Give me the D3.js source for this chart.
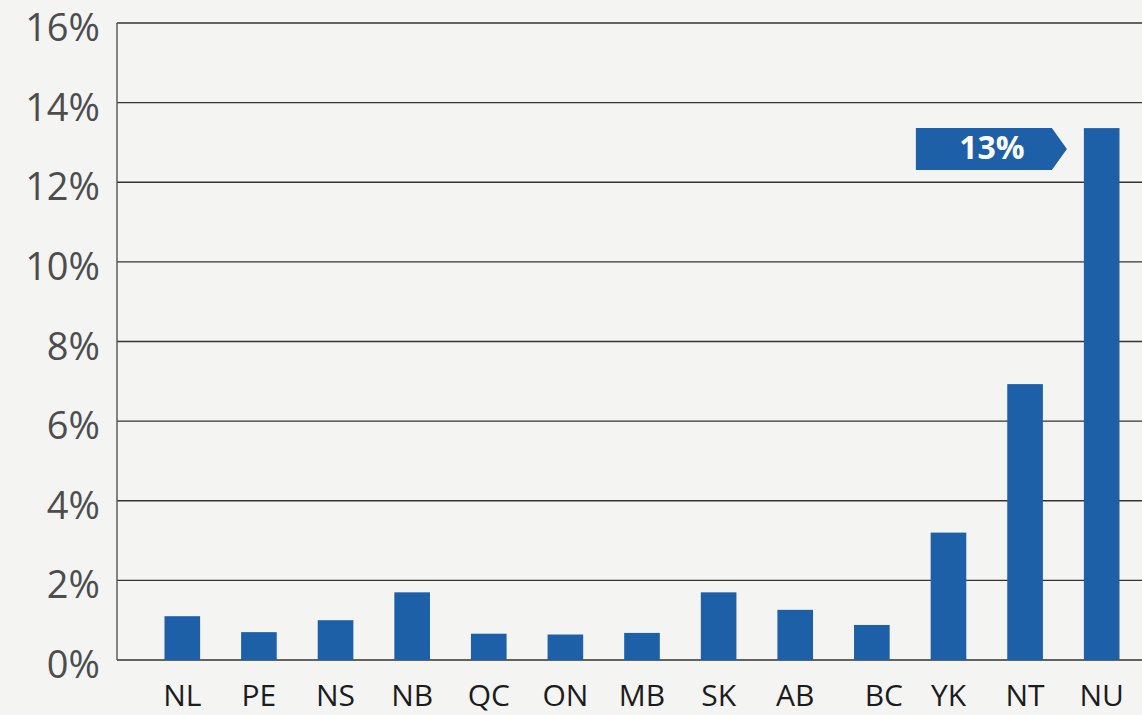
<!DOCTYPE html>
<html>
  <head>
    <meta charset="utf-8">
    <style>
      body { margin:0; background:#f4f4f3; }
      svg { display:block; }
      text { font-family: "Open Sans", "Noto Sans", sans-serif; }
      .ytick text { font-size:38px; fill:#4d4d4d; text-anchor:end; }
      .xtick text { font-size:30px; fill:#1c1c1c; text-anchor:middle; }
      .grid line { stroke:#333; stroke-width:1.4px; }
      .bars rect { fill:#1e60a8; }
      .callout path { fill:#1e60a8; }
      .callout text { fill:#fff; font-weight:700; font-size:32px; text-anchor:middle; dominant-baseline:middle; }
    </style>
    <script src="https://d3js.org/d3.v7.min.js"></script>
  </head>
  <body>
    <script>
      // provinces / territories and the share (%)
      const provinces = ['NL','PE','NS','NB','QC','ON','MB','SK','AB','BC','YK','NT','NU']
      const shares = [1.1, 0.7, 1.0, 1.7, 0.66, 0.64, 0.68, 1.7, 1.26, 0.88, 3.2, 6.93, 13.36]
      const yTicks = [0, 2, 4, 6, 8, 10, 12, 14, 16]
      const calloutLabel = '13%'

      const W = 1142, H = 715
      const svg = d3.select('body').append('svg').attr('width',W).attr('height',H)

      const x = d3.scaleBand().domain(provinces).range([144,1140])
        .paddingInner(0.535).paddingOuter(0.2675)
      const y = d3.scaleLinear().domain([0,16]).range([660,23])

      // horizontal grid lines
      const grid = svg.append('g').classed('grid',true)
      grid.selectAll('line').data(yTicks).join('line')
        .attr('x1',117).attr('x2',W)
        .attr('y1',d => y(d)).attr('y2',d => y(d))
      // left axis line
      svg.append('line').attr('x1',117).attr('x2',117).attr('y1',y(16)).attr('y2',y(0))
        .attr('stroke','#555').attr('stroke-width',1.4)

      // y tick labels (baseline a bit below the grid line, like the original)
      svg.append('g').classed('ytick',true).selectAll('text').data(yTicks).join('text')
        .attr('x',100).attr('y',d => y(d)+18)
        .text(d => d+'%')

      // bars
      svg.append('g').classed('bars',true).selectAll('rect').data(provinces).join('rect')
        .attr('x',d => x(d))
        .attr('width',x.bandwidth())
        .attr('y',(d,i) => y(shares[i]))
        .attr('height',(d,i) => y(0)-y(shares[i]))

      // category labels
      svg.append('g').classed('xtick',true).selectAll('text').data(provinces).join('text')
        .attr('x',d => x(d)+x.bandwidth()/2 + (d=='BC' ? 12 : 0))
        .attr('y',706)
        .text(d => d)

      // callout arrow next to the tallest bar
      const last = provinces[provinces.length-1]
      const tipX = x(last)-17, boxTop = y(shares[shares.length-1]), boxH = 42
      const boxLeft = tipX-151, boxRight = tipX-15
      const callout = svg.append('g').classed('callout',true)
      callout.append('path')
        .attr('d',`M${boxLeft},${boxTop} L${boxRight},${boxTop} L${tipX},${boxTop+boxH/2} L${boxRight},${boxTop+boxH} L${boxLeft},${boxTop+boxH} Z`)
      callout.append('text')
        .attr('x',(boxLeft+boxRight)/2+8).attr('y',boxTop+boxH/2+1)
        .text(calloutLabel)
    </script>
  </body>
</html>
